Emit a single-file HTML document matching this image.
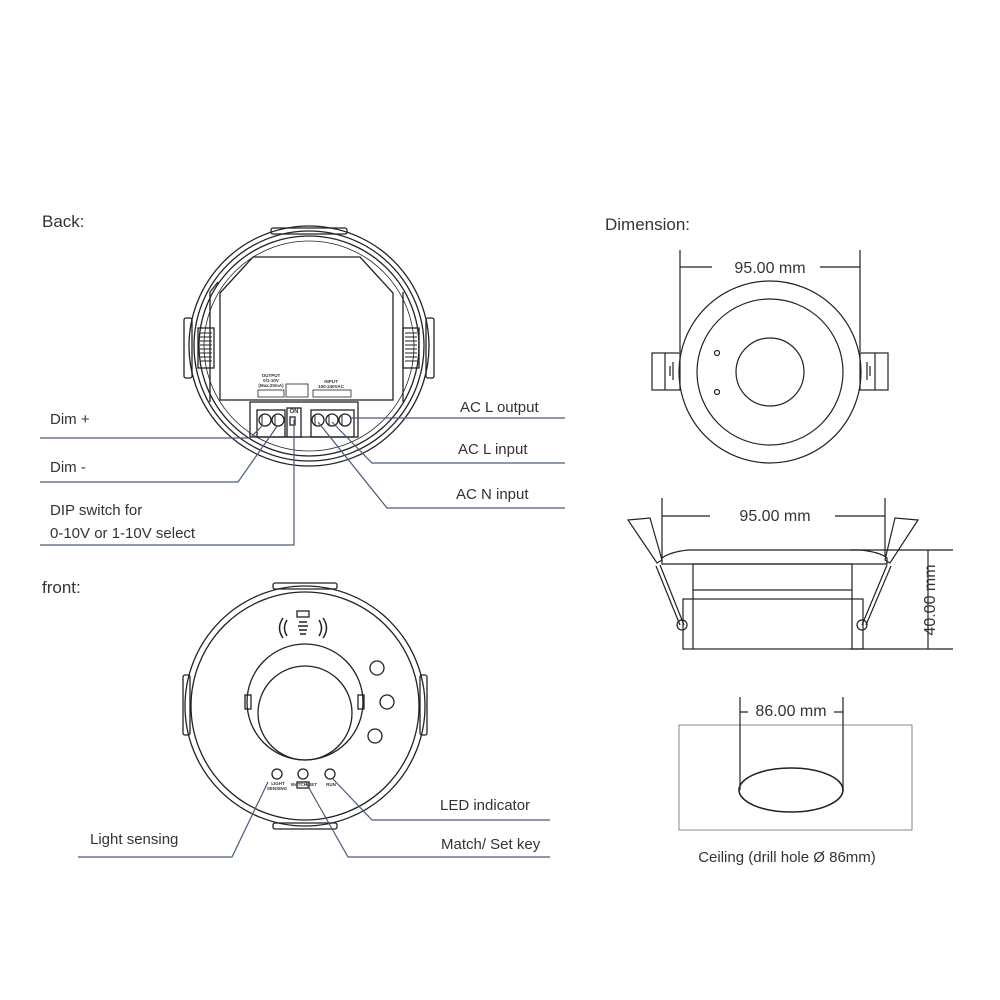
<!DOCTYPE html>
<html><head><style>
body{margin:0;background:#fff}
svg{display:block}
text{font-family:"Liberation Sans",sans-serif;fill:#333}
</style></head><body>
<svg width="1000" height="1000" viewBox="0 0 1000 1000" xmlns="http://www.w3.org/2000/svg">
<!-- headings -->
<text x="42" y="227" font-size="17">Back:</text>
<text x="605" y="230" font-size="17">Dimension:</text>
<text x="42" y="593" font-size="17">front:</text>

<!-- BACK VIEW -->
<g fill="none" stroke="#222" stroke-width="1.3">
<circle cx="309" cy="346" r="120"/>
<circle cx="309" cy="346" r="115"/>
<circle cx="309" cy="346" r="110"/>
<circle cx="309" cy="346" r="105" stroke-width="0.8"/>
<rect x="271" y="228" width="76" height="6" rx="2"/>
<rect x="184" y="318" width="8" height="60" rx="2"/>
<rect x="426" y="318" width="8" height="60" rx="2"/>
<path d="M220,293 L253,257 L360,257 L393,293 L393,400 L220,400 Z"/>
<path d="M210,292 L218,282 M210,292 L210,402 M403,292 L403,402"/>
<rect x="198" y="328" width="16" height="40"/>
<rect x="403" y="328" width="16" height="40"/>
<path d="M200,333h12M200,337h12M200,341h12M200,345h12M200,349h12M200,353h12M200,357h12M200,361h12M405,333h12M405,337h12M405,341h12M405,345h12M405,349h12M405,353h12M405,357h12M405,361h12" stroke-width="1"/>
<rect x="250" y="402" width="108" height="35"/>
<rect x="257" y="410" width="28" height="27"/>
<rect x="311" y="410" width="43" height="27"/>
<rect x="287" y="408" width="14" height="29"/>
<rect x="290" y="417" width="5" height="8"/>
<circle cx="265" cy="420" r="6"/><circle cx="278" cy="420" r="6"/>
<circle cx="318" cy="420" r="6"/><circle cx="332" cy="420" r="6"/><circle cx="345" cy="420" r="6"/>
<path d="M262,415v10M275,415v10M315,415v10M329,415v10M342,415v10" stroke-width="1"/>
<rect x="258" y="390" width="26" height="7" stroke-width="0.8"/>
<rect x="286" y="384" width="22" height="13" stroke-width="0.8"/>
<rect x="313" y="390" width="38" height="7" stroke-width="0.8"/>
</g>
<g font-size="4.5" font-weight="bold" text-anchor="middle">
<text x="271" y="377">OUTPUT</text><text x="271" y="382">0/1-10V</text><text x="271" y="387">(Max.20mA)</text>
<text x="331" y="383">INPUT</text><text x="331" y="388">100-240VAC</text>
<text x="294" y="413" font-size="6">ON</text>
</g>
<!-- back leaders -->
<g fill="none" stroke="#4a5a7a" stroke-width="1.2">
<path d="M40,438 H250 L263,425"/>
<path d="M40,482 H238 L278,425"/>
<path d="M40,545 H294 V420"/>
<path d="M350,418 H565"/>
<path d="M565,463 H372 L332,422"/>
<path d="M565,508 H387 L318,422"/>
</g>
<g font-size="15">
<text x="50" y="424">Dim +</text>
<text x="50" y="472">Dim -</text>
<text x="50" y="515">DIP  switch for</text>
<text x="50" y="538">0-10V  or 1-10V select</text>
<text x="460" y="412">AC L output</text>
<text x="458" y="454">AC L input</text>
<text x="456" y="499">AC N input</text>
</g>

<!-- FRONT VIEW -->
<g fill="none" stroke="#222" stroke-width="1.3">
<circle cx="305" cy="706" r="120"/>
<circle cx="305" cy="706" r="114"/>
<rect x="273" y="583" width="64" height="6" rx="2"/>
<rect x="183" y="675" width="7" height="60" rx="2"/>
<rect x="420" y="675" width="7" height="60" rx="2"/>
<rect x="273" y="823" width="64" height="6" rx="2"/>
<circle cx="305" cy="702" r="58"/>
<circle cx="305" cy="713" r="47"/>
<rect x="245" y="695" width="6" height="14"/>
<rect x="358" y="695" width="6" height="14"/>
<circle cx="377" cy="668" r="7"/>
<circle cx="387" cy="702" r="7"/>
<circle cx="375" cy="736" r="7"/>
<circle cx="277" cy="774" r="5"/>
<circle cx="303" cy="774" r="5"/>
<circle cx="330" cy="774" r="5"/>
<rect x="297" y="611" width="12" height="6"/>
<rect x="297" y="782" width="12" height="6"/>
<path d="M287,620 q-5,8 0,16 M283,618 q-7,10 0,20 M319,620 q5,8 0,16 M323,618 q7,10 0,20" stroke-width="1.5"/>
<path d="M299,622h8M298,626h10M299,630h8M300,634h6" stroke-width="1.5"/>
</g>
<g font-size="4.5" font-weight="bold" text-anchor="middle">
<text x="278" y="785">LIGHT</text><text x="277" y="790">SENSING</text>
<text x="304" y="786">MATCH/SET</text><text x="331" y="786">RUN</text>
</g>
<g fill="none" stroke="#4a5a7a" stroke-width="1.2">
<path d="M78,857 H232 L268,782"/>
<path d="M550,857 H348 L305,781"/>
<path d="M550,820 H372 L333,779"/>
</g>
<g font-size="15">
<text x="90" y="844">Light sensing</text>
<text x="440" y="810">LED indicator</text>
<text x="441" y="849">Match/ Set key</text>
</g>

<!-- DIMENSION top view -->
<g fill="none" stroke="#222" stroke-width="1.2">
<path d="M680,250 V352 M860,250 V352 M680,267 H712 M820,267 H860"/>
<circle cx="770" cy="372" r="91"/>
<circle cx="770" cy="372" r="73"/>
<circle cx="770" cy="372" r="34"/>
<circle cx="717" cy="353" r="2.5"/>
<circle cx="717" cy="392" r="2.5"/>
<rect x="652" y="353" width="28" height="37"/>
<path d="M665,353v37M673,362v18M670,366v10"/>
<rect x="860" y="353" width="28" height="37"/>
<path d="M875,353v37M867,362v18M870,366v10"/>
</g>
<text x="770" y="273" font-size="16" text-anchor="middle">95.00 mm</text>

<!-- side view -->
<g fill="none" stroke="#222" stroke-width="1.2">
<path d="M662,498 V558 M885,498 V556 M662,516 H710 M835,516 H885"/>
<path d="M662,558 Q670,552 688,550 H860 Q880,552 887,558 L887,564 H662 Z"/>
<rect x="693" y="564" width="159" height="26"/>
<rect x="683" y="599" width="180" height="50"/>
<path d="M693,590 V649 M852,590 V649"/>
<path d="M628,520 L650,518 L662,560 L657,563 Z"/>
<path d="M918,520 L895,518 L885,560 L890,563 Z"/>
<path d="M660,565 L684,625 M656,566 L680,625 M887,565 L862,625 M891,566 L866,625"/>
<circle cx="682" cy="625" r="5"/><circle cx="862" cy="625" r="5"/>
<path d="M850,550 H953 M850,649 H953 M928,550 V649"/>
</g>
<text x="775" y="521" font-size="16" text-anchor="middle">95.00 mm</text>
<text transform="translate(935,600) rotate(-90)" font-size="16" text-anchor="middle">40.00 mm</text>

<!-- ceiling -->
<g fill="none" stroke="#222" stroke-width="1.2">
<path d="M679,725 H912 V830 H679 Z" stroke="#666" stroke-width="0.8"/>
<path d="M740,697 V790 M843,697 V790 M740,712 H748 M834,712 H843"/>
<ellipse cx="791" cy="790" rx="52" ry="22" stroke-width="1.6"/>
</g>
<text x="791" y="716" font-size="16" text-anchor="middle">86.00 mm</text>
<text x="787" y="862" font-size="15" text-anchor="middle">Ceiling (drill hole Ø 86mm)</text>
</svg>
</body></html>
